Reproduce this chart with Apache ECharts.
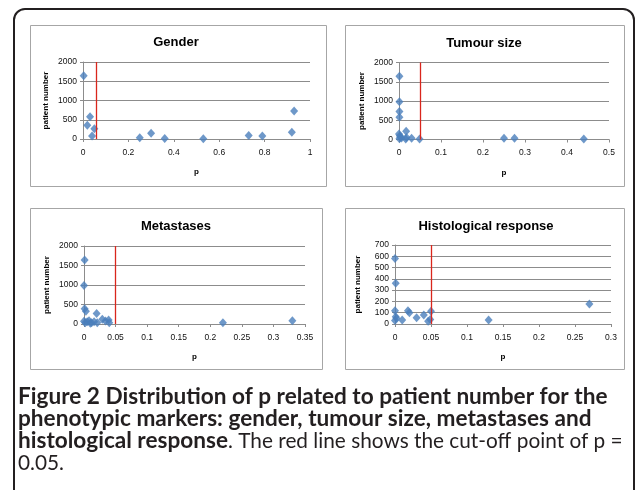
<!DOCTYPE html>
<html>
<head>
<meta charset="utf-8">
<script src="https://cdn.jsdelivr.net/npm/echarts@6/dist/echarts.min.js"></script>
<style>
html,body{margin:0;padding:0;background:#fff;}
#c{width:636px;height:490px;}
</style>
</head>
<body>
<div id="c"></div>
<script>
// ---- data ----
const panelTitles = ['Gender', 'Tumour size', 'Metastases', 'Histological response'];
const genderP = [0.003, 0.019, 0.031, 0.040, 0.050, 0.25, 0.30, 0.36, 0.53, 0.73, 0.79, 0.92, 0.93];
const genderN = [1640, 355, 580, 80, 265, 30, 150, 15, 8, 90, 80, 175, 730];
const tumourP = [0.001, 0.001, 0.001, 0.001, 0.0, 0.002, 0.003, 0.001, 0.006, 0.017, 0.016, 0.018, 0.03, 0.049, 0.25, 0.275, 0.44];
const tumourN = [1640, 980, 730, 580, 140, 100, 60, 20, 40, 215, 10, 50, 30, 12, 30, 30, 15];
const metP = [0.001, 0.0, 0.001, 0.003, 0.0, 0.002, 0.005, 0.008, 0.010, 0.012, 0.016, 0.020, 0.021, 0.029, 0.034, 0.039, 0.040, 0.22, 0.33];
const metN = [1640, 985, 390, 330, 70, 30, 60, 85, 20, 35, 60, 270, 35, 120, 75, 100, 35, 30, 85];
const histP = [0.0, 0.001, 0.0, 0.001, 0.002, 0.0, 0.01, 0.018, 0.02, 0.03, 0.04, 0.046, 0.049, 0.05, 0.13, 0.27];
const histN = [580, 360, 118, 65, 50, 30, 35, 118, 100, 55, 80, 25, 40, 112, 35, 177];
const cutoffs = [0.056, 0.05, 0.05, 0.05];
const xMax = [1, 0.5, 0.35, 0.3];
const xStep = [0.2, 0.1, 0.05, 0.05];
const yMax = [2000, 2000, 2000, 700];
const yStep = [500, 500, 500, 100];
const xName = 'p';
const yName = 'patient number';
const captionBold1 = 'Figure 2 Distribution of p related to patient number for the';
const captionBold2 = 'phenotypic markers: gender, tumour size, metastases and';
const captionBold3 = 'histological response';
const captionNorm3 = '. The red line shows the cut-off point of p =';
const captionNorm4 = '0.05.';

const series = [[genderP, genderN], [tumourP, tumourN], [metP, metN], [histP, histN]];

// ---- layout ----
const grids = [
  {left: 83, top: 62, width: 227, height: 77},
  {left: 399, top: 62.5, width: 210, height: 77},
  {left: 84, top: 246, width: 221, height: 78},
  {left: 395, top: 245, width: 216, height: 79}
];
const boxes = [
  {x: 30, y: 25, w: 296, h: 161},
  {x: 345, y: 25, w: 279, h: 161},
  {x: 30, y: 208, w: 292, h: 161},
  {x: 345, y: 208, w: 279, h: 161}
];
const titlePos = [[176, 42], [484, 43], [176, 226], [486, 226]];

const font = '"Liberation Sans", Arial, sans-serif';
const gridColor = '#8c8c8c';
const chart = echarts.init(document.getElementById('c'), null, {renderer: 'canvas'});

const graphic = [];
graphic.push({
  type: 'rect', z: 0,
  shape: {x: 14, y: 9, width: 620, height: 500, r: [11, 11, 0, 0]},
  style: {fill: 'none', stroke: '#231f20', lineWidth: 2}
});
boxes.forEach(b => graphic.push({
  type: 'rect', z: 1,
  shape: {x: b.x + 0.5, y: b.y + 0.5, width: b.w, height: b.h},
  style: {fill: 'none', stroke: '#a6a6a6', lineWidth: 1}
}));
panelTitles.forEach((t, i) => graphic.push({
  type: 'text', z: 5,
  style: {text: t, x: titlePos[i][0], y: titlePos[i][1], textAlign: 'center', textVerticalAlign: 'middle',
    font: 'bold 13px ' + font, fill: '#000'}
}));
const capFont = '"Lato", "Liberation Sans", sans-serif';
const capColor = '#231f20';
const capSize = 22.6;
const capSizeN = 20.8;
graphic.push({type: 'text', z: 5, style: {text: captionBold1, x: 18, y: 397, textVerticalAlign: 'middle', font: 'bold ' + capSize + 'px ' + capFont, fill: capColor}});
graphic.push({type: 'text', z: 5, style: {text: captionBold2, x: 18, y: 419, textVerticalAlign: 'middle', font: 'bold ' + capSize + 'px ' + capFont, fill: capColor}});
graphic.push({type: 'text', z: 5, style: {
  text: '{b|' + captionBold3 + '}{n|' + captionNorm3 + '}', x: 18, y: 441, textVerticalAlign: 'middle',
  rich: {
    b: {fontFamily: capFont, fontWeight: 'bold', fontSize: capSize, fill: capColor, color: capColor},
    n: {fontFamily: capFont, fontWeight: 'normal', fontSize: capSizeN, fill: capColor, color: capColor}
  }
}});
graphic.push({type: 'text', z: 5, style: {text: captionNorm4, x: 18, y: 463, textVerticalAlign: 'middle', font: capSizeN + 'px ' + capFont, fill: capColor}});

const option = {
  animation: false,
  backgroundColor: '#fff',
  graphic: graphic,
  grid: grids.map(g => Object.assign({containLabel: false, z: 3}, g)),
  xAxis: grids.map((g, i) => ({
    type: 'value', gridIndex: i, min: 0, max: xMax[i], interval: xStep[i],
    name: xName, nameLocation: 'middle', nameGap: 29,
    nameTextStyle: {fontFamily: font, fontWeight: 'bold', fontSize: 8, color: '#000'},
    axisLine: {show: true, onZero: false, lineStyle: {color: gridColor, width: 1}},
    axisTick: {show: true, inside: false, length: 3, lineStyle: {color: gridColor}},
    axisLabel: {fontFamily: font, fontSize: 8.5, color: '#111', margin: 9, formatter: v => String(v)},
    splitLine: {show: false}
  })),
  yAxis: grids.map((g, i) => ({
    type: 'value', gridIndex: i, min: 0, max: yMax[i], interval: yStep[i],
    name: yName, nameLocation: 'middle', nameGap: 33,
    nameTextStyle: {fontFamily: font, fontWeight: 'bold', fontSize: 8, color: '#000'},
    axisLine: {show: true, lineStyle: {color: gridColor, width: 1}},
    axisTick: {show: true, inside: false, length: 3, lineStyle: {color: gridColor}},
    axisLabel: {fontFamily: font, fontSize: 8.5, color: '#111', margin: 6, formatter: v => String(v)},
    splitLine: {show: true, lineStyle: {color: gridColor, width: 1}}
  })),
  series: series.map((s, i) => ({
    type: 'scatter', xAxisIndex: i, yAxisIndex: i, z: 4,
    symbol: 'diamond', symbolSize: [8, 9],
    itemStyle: {color: '#4a7ebb'},
    data: s[0].map((p, k) => [p, s[1][k]]),
    markLine: {
      silent: true, symbol: 'none', label: {show: false},
      lineStyle: {color: '#d9261c', width: 1.3, type: 'solid'},
      data: [{xAxis: cutoffs[i]}]
    }
  }))
};
chart.setOption(option);
</script>
</body>
</html>
